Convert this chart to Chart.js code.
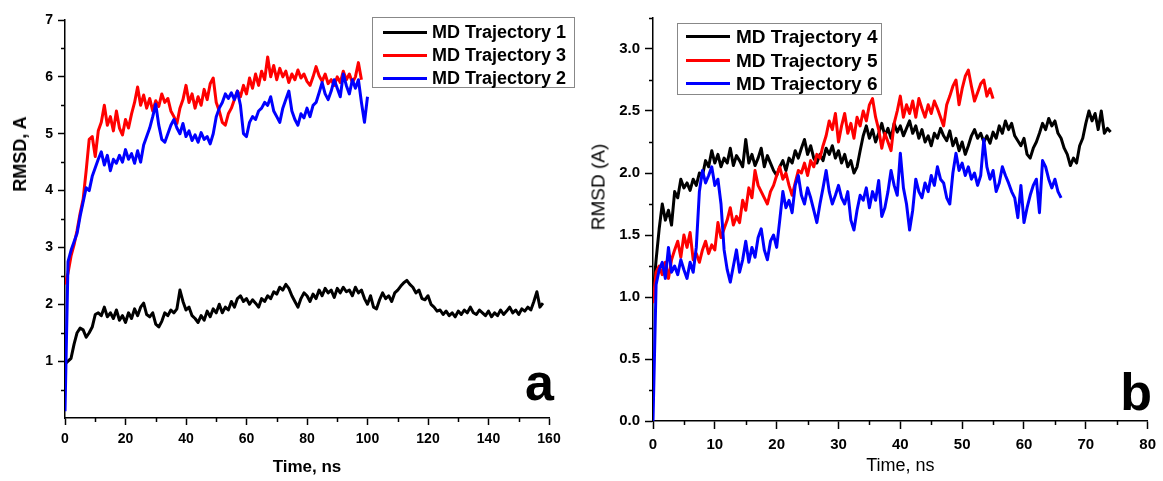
<!DOCTYPE html>
<html>
<head>
<meta charset="utf-8">
<script src="https://cdn.jsdelivr.net/npm/chart.js@4/dist/chart.umd.min.js"></script>
<style>
  body { margin: 0; width: 1163px; height: 481px; background: #fff; position: relative; overflow: hidden;
    font-family: "Liberation Sans", Arial, sans-serif; color: #000; }
  .panel { position: absolute; top: 0; }
  .legend { position: absolute; box-sizing: border-box; border: 1px solid #888; background: #fff; font-weight: bold; }
  .legend .row { position: relative; white-space: nowrap; }
  .legend .swatch { position: absolute; height: 3px; width: 44px; }
  .ytitle { position: absolute; white-space: nowrap; transform: translate(-50%, -50%) rotate(-90deg); line-height: 1; }
  .letter { position: absolute; font-weight: bold; font-size: 52px; line-height: 52px; }
</style>
</head>
<body>
<div class="panel" style="left:0"><canvas id="chartA" width="580" height="481"></canvas></div>
<div class="panel" style="left:580px"><canvas id="chartB" width="583" height="481"></canvas></div>

<div class="ytitle" style="left:20px; top:154px; font-size:18px; font-weight:bold">RMSD, A</div>
<div class="ytitle" style="left:598px; top:187px; font-size:19px">RMSD (A)</div>

<div id="legendA" class="legend" style="left:372px; top:17px; width:203px; height:71px; padding-top:3px; font-size:18px"></div>
<div id="legendB" class="legend" style="left:677px; top:23px; width:205px; height:72px; padding-top:1px; font-size:19px"></div>

<div class="letter" style="right:609px; top:356px">a</div>
<div class="letter" style="right:11px; top:366px">b</div>

<script>
// panel a: ticks
const aXTicks = [0, 20, 40, 60, 80, 100, 120, 140, 160];
const aXMinor = [10, 30, 50, 70, 90, 110, 130, 150];
const aYTicks = [1, 2, 3, 4, 5, 6, 7];
const aYMinor = [0.5, 1.5, 2.5, 3.5, 4.5, 5.5, 6.5];

// panel b: ticks
const bXTicks = [0, 10, 20, 30, 40, 50, 60, 70, 80];
const bXMinor = [5, 15, 25, 35, 45, 55, 65, 75];
const bYTicks = [0, 0.5, 1.0, 1.5, 2.0, 2.5, 3.0];
const bYMinor = [0.25, 0.75, 1.25, 1.75, 2.25, 2.75, 3.25];

const traj1 = [0.95, 1.00, 1.05, 1.30, 1.50, 1.58, 1.55, 1.42, 1.50, 1.60,
  1.82, 1.85, 1.80, 1.95, 1.78, 1.85, 1.75, 1.90, 1.72, 1.80,
  1.68, 1.85, 1.75, 1.92, 1.80, 1.95, 2.02, 1.82, 1.78, 1.85,
  1.65, 1.60, 1.70, 1.85, 1.80, 1.90, 1.85, 1.92, 2.25, 2.05,
  1.90, 1.95, 1.80, 1.75, 1.68, 1.80, 1.72, 1.88, 1.78, 1.92,
  1.85, 2.00, 1.85, 1.95, 1.90, 2.05, 1.95, 2.10, 2.15, 2.05,
  2.10, 2.00, 2.08, 2.02, 1.95, 2.10, 2.05, 2.15, 2.10, 2.22,
  2.18, 2.30, 2.25, 2.35, 2.28, 2.15, 2.05, 1.95, 2.10, 2.20,
  2.15, 2.05, 2.18, 2.10, 2.25, 2.15, 2.28, 2.20, 2.25, 2.12,
  2.28, 2.20, 2.30, 2.22, 2.25, 2.15, 2.30, 2.20, 2.25, 2.10,
  2.00, 2.15, 1.95, 1.92, 2.08, 2.20, 2.10, 2.15, 2.05, 2.20,
  2.25, 2.32, 2.38, 2.42, 2.35, 2.30, 2.20, 2.25, 2.10, 2.08,
  2.15, 2.00, 1.95, 1.88, 1.90, 1.82, 1.88, 1.80, 1.85, 1.78,
  1.88, 1.82, 1.90, 1.85, 1.95, 1.85, 1.82, 1.90, 1.85, 1.80,
  1.88, 1.78, 1.85, 1.80, 1.90, 1.82, 1.88, 1.95, 1.85, 1.90,
  1.82, 1.92, 1.88, 1.95, 1.90, 2.05, 2.22, 1.95, 2.02];

const traj3 = [2.35, 2.55, 2.85, 3.05, 3.30, 3.60, 3.85, 4.35, 4.90, 4.95,
  4.60, 5.05, 5.20, 5.50, 5.15, 5.30, 5.05, 5.40, 5.10, 4.98,
  5.25, 5.10, 5.35, 5.55, 5.82, 5.50, 5.68, 5.45, 5.62, 5.40,
  5.58, 5.48, 5.70, 5.55, 5.62, 5.40, 5.30, 5.18, 5.45, 5.60,
  5.85, 5.55, 5.70, 5.45, 5.65, 5.50, 5.78, 5.60, 5.88, 5.98,
  5.55, 5.40, 5.20, 5.15, 5.35, 5.45, 5.60, 5.75, 5.65, 5.85,
  5.70, 5.98, 5.80, 6.05, 5.85, 6.10, 5.95, 6.35, 6.00, 6.20,
  5.95, 6.15, 6.00, 6.10, 5.90, 6.05, 5.95, 6.12, 5.98, 6.05,
  5.92, 5.85, 6.00, 6.18, 6.02, 5.92, 6.05, 5.88, 5.95, 5.85,
  6.00, 5.90, 6.10, 5.95, 6.05, 5.90, 6.00, 6.25, 5.95];

const traj2 = [0.12, 2.75, 2.95, 3.10, 3.25, 3.55, 3.80, 4.05, 4.00, 4.25,
  4.40, 4.55, 4.68, 4.45, 4.62, 4.35, 4.55, 4.48, 4.62, 4.50,
  4.72, 4.55, 4.65, 4.48, 4.70, 4.50, 4.80, 4.95, 5.10, 5.30,
  5.52, 5.15, 4.90, 4.85, 5.00, 5.15, 5.25, 5.10, 5.00, 5.18,
  4.95, 5.05, 4.88, 4.98, 4.85, 5.02, 4.90, 4.95, 4.82, 5.00,
  5.30, 5.45, 5.55, 5.70, 5.62, 5.72, 5.60, 5.75, 5.50, 5.00,
  4.95, 5.20, 5.30, 5.25, 5.40, 5.45, 5.55, 5.50, 5.65, 5.40,
  5.30, 5.20, 5.45, 5.60, 5.75, 5.40, 5.25, 5.15, 5.35, 5.28,
  5.45, 5.30, 5.50, 5.55, 5.72, 5.90, 5.70, 5.60, 5.75, 5.95,
  5.80, 5.65, 6.05, 5.85, 5.70, 5.95, 5.80, 5.95, 5.55, 5.20,
  5.65];

const traj4 = [1.00, 1.30, 1.55, 1.75, 1.62, 1.70, 1.58, 1.85, 1.80, 1.95,
  1.88, 1.92, 1.86, 1.95, 1.90, 2.00, 1.98, 2.10, 2.05, 2.18,
  2.08, 2.15, 2.05, 2.12, 2.08, 2.20, 2.06, 2.14, 2.10, 2.05,
  2.27, 2.08, 2.15, 2.06, 2.12, 2.20, 2.05, 2.14, 2.08, 2.02,
  1.98, 2.05, 2.10, 2.02, 2.12, 2.08, 2.18, 2.12, 2.20, 2.27,
  2.15, 2.22, 2.12, 2.08, 2.15, 2.10, 2.20, 2.15, 2.22, 2.12,
  2.18, 2.08, 2.15, 2.05, 2.10, 2.00, 2.05, 2.18, 2.30, 2.38,
  2.28, 2.35, 2.25, 2.32, 2.40, 2.30, 2.36, 2.28, 2.40, 2.33,
  2.38, 2.30, 2.36, 2.42, 2.32, 2.38, 2.28, 2.35, 2.25, 2.30,
  2.22, 2.32, 2.28, 2.36, 2.30, 2.26, 2.34, 2.22, 2.28, 2.18,
  2.25, 2.15, 2.22, 2.30, 2.35, 2.28, 2.32, 2.25, 2.30, 2.24,
  2.33, 2.28, 2.38, 2.32, 2.42, 2.35, 2.40, 2.30, 2.26, 2.22,
  2.28, 2.15, 2.12, 2.20, 2.25, 2.32, 2.40, 2.35, 2.44, 2.38,
  2.42, 2.32, 2.28, 2.20, 2.15, 2.06, 2.12, 2.08, 2.22, 2.28,
  2.40, 2.50, 2.42, 2.48, 2.35, 2.50, 2.32, 2.36, 2.33];

const traj5 = [0.95, 1.20, 1.25, 1.18, 1.28, 1.15, 1.30, 1.38, 1.45, 1.32,
  1.50, 1.40, 1.52, 1.30, 1.35, 1.28, 1.38, 1.45, 1.35, 1.42,
  1.38, 1.60, 1.48, 1.55, 1.62, 1.72, 1.58, 1.65, 1.60, 1.78,
  1.70, 1.88, 1.80, 2.02, 1.90, 1.85, 1.80, 1.75, 1.85, 1.90,
  1.98, 2.05, 1.95, 2.00, 1.90, 1.82, 1.92, 2.02, 2.00, 2.08,
  1.98, 2.10, 2.05, 2.15, 2.12, 2.22, 2.30, 2.42, 2.35, 2.48,
  2.25, 2.38, 2.48, 2.32, 2.40, 2.28, 2.45, 2.38, 2.50, 2.42,
  2.55, 2.60, 2.45, 2.35, 2.20, 2.32, 2.25, 2.18, 2.40, 2.50,
  2.62, 2.45, 2.55, 2.48, 2.58, 2.45, 2.60, 2.52, 2.45, 2.55,
  2.48, 2.58, 2.52, 2.45, 2.38, 2.55, 2.62, 2.70, 2.75, 2.55,
  2.68, 2.78, 2.83, 2.70, 2.58, 2.65, 2.72, 2.75, 2.62, 2.68,
  2.60];

const traj6 = [0.00, 1.10, 1.22, 1.28, 1.15, 1.40, 1.20, 1.25, 1.18, 1.30,
  1.22, 1.15, 1.28, 1.20, 1.40, 1.85, 2.02, 1.92, 1.98, 2.05,
  1.90, 1.95, 1.75, 1.38, 1.22, 1.12, 1.25, 1.38, 1.20, 1.30,
  1.45, 1.28, 1.40, 1.32, 1.48, 1.55, 1.38, 1.30, 1.45, 1.50,
  1.40, 1.62, 1.85, 1.72, 1.78, 1.68, 1.90, 1.98, 1.82, 1.75,
  1.88, 1.80, 1.70, 1.60, 1.75, 1.88, 2.02, 1.85, 1.75, 1.82,
  1.90, 1.80, 1.75, 1.85, 1.62, 1.54, 1.70, 1.82, 1.78, 1.88,
  1.72, 1.85, 1.78, 1.94, 1.65, 1.72, 1.85, 2.02, 1.90, 1.82,
  2.16, 1.88, 1.75, 1.54, 1.70, 1.95, 1.85, 1.80, 1.92, 1.85,
  1.98, 1.90, 2.05, 1.95, 1.92, 1.80, 1.75, 2.00, 2.16, 2.02,
  2.08, 1.98, 2.05, 1.95, 2.00, 1.90, 1.98, 2.27, 2.05, 1.95,
  2.02, 1.85, 1.92, 2.05, 1.98, 1.92, 1.85, 1.80, 1.64, 1.90,
  1.60, 1.72, 1.82, 1.90, 1.95, 1.68, 2.10, 2.05, 1.95, 1.88,
  1.95, 1.85, 1.80];

const FONT = "'Liberation Sans', Arial, sans-serif";
Chart.defaults.font.family = FONT;
Chart.defaults.color = "#000";

function toPoints(values, step) { return values.map((v, i) => ({ x: i * step, y: v })); }

// short minor tick marks between the labelled ones
const minorTicks = {
  id: "minorTicks",
  afterDraw(chart, args, opts) {
    const { ctx, chartArea, scales } = chart;
    ctx.save();
    ctx.strokeStyle = "#000";
    ctx.lineWidth = 1.5;
    ctx.beginPath();
    opts.x.forEach((v) => {
      const px = Math.round(scales.x.getPixelForValue(v)) + 0.5;
      ctx.moveTo(px, chartArea.bottom); ctx.lineTo(px, chartArea.bottom + opts.length);
    });
    opts.y.forEach((v) => {
      const py = Math.round(scales.y.getPixelForValue(v)) + 0.5;
      ctx.moveTo(chartArea.left, py); ctx.lineTo(chartArea.left - opts.length, py);
    });
    ctx.stroke();
    ctx.restore();
  }
};

function axis(cfg) {
  return {
    type: "linear", min: cfg.min, max: cfg.max,
    afterBuildTicks: (scale) => { scale.ticks = cfg.ticks.map((v) => ({ value: v })); },
    afterFit: (scale) => { if (cfg.width) scale.width = cfg.width; if (cfg.height) scale.height = cfg.height; },
    ticks: { color: "#000", padding: cfg.padding, font: { size: cfg.fontSize, weight: "bold" },
      callback: cfg.format || ((v) => v) },
    grid: { drawOnChartArea: false, drawTicks: true, tickLength: cfg.tickLength, tickColor: "#000", tickWidth: 1.5 },
    border: { display: true, color: "#000", width: 1.5 },
    title: cfg.title ? { display: true, text: cfg.title, color: "#000", font: cfg.titleFont, padding: { top: 0, bottom: cfg.titlePad } }
      : { display: false }
  };
}

function makeChart(id, series, opts) {
  const datasets = series.map((s, i) => ({
    label: s.label, data: toPoints(s.values, s.step), borderColor: s.color, backgroundColor: s.color,
    borderWidth: 3, pointRadius: 0, tension: 0, fill: false, borderJoinStyle: "round", order: series.length - i
  }));
  return new Chart(document.getElementById(id), {
    type: "line",
    data: { datasets },
    options: {
      responsive: false, animation: false, events: [],
      layout: { padding: opts.padding },
      plugins: { legend: { display: false }, tooltip: { enabled: false }, minorTicks: opts.minor },
      scales: { x: opts.x, y: opts.y }
    },
    plugins: [minorTicks]
  });
}

function buildLegend(id, series, swatchLeft, textLeft, rowHeight) {
  document.getElementById(id).innerHTML = series.map((s) =>
    `<div class="row" style="height:${rowHeight}px; line-height:${rowHeight}px; padding-left:${textLeft}px">` +
    `<span class="swatch" style="left:${swatchLeft}px; top:${rowHeight / 2 - 1.5}px; background:${s.color}"></span>${s.label}</div>`).join("");
}

const seriesA = [
  { label: "MD Trajectory 1", values: traj1, step: 1, color: "#000000" },
  { label: "MD Trajectory 3", values: traj3, step: 1, color: "#ff0000" },
  { label: "MD Trajectory 2", values: traj2, step: 1, color: "#0000ff" }
];
const seriesB = [
  { label: "MD Trajectory 4", values: traj4, step: 0.5, color: "#000000" },
  { label: "MD Trajectory 5", values: traj5, step: 0.5, color: "#ff0000" },
  { label: "MD Trajectory 6", values: traj6, step: 0.5, color: "#0000ff" }
];

makeChart("chartA", seriesA, {
  padding: { left: 0, right: 31, top: 20, bottom: 0 },
  minor: { x: aXMinor, y: aYMinor, length: 4 },
  x: axis({ min: 0, max: 160, ticks: aXTicks, height: 63, padding: 6, tickLength: 7, fontSize: 14,
    title: "Time, ns", titleFont: { size: 17, weight: "bold" }, titlePad: 3 }),
  y: axis({ min: 0, max: 7, ticks: aYTicks, width: 65, padding: 5, tickLength: 7, fontSize: 14 })
});

makeChart("chartB", seriesB, {
  padding: { left: 0, right: 11, top: 18, bottom: 0 },
  minor: { x: bXMinor, y: bYMinor, length: 4 },
  x: axis({ min: 0, max: 80, ticks: bXTicks, height: 60, padding: 7, tickLength: 8, fontSize: 15,
    title: "Time, ns", titleFont: { size: 18, weight: "normal" }, titlePad: 4 }),
  y: axis({ min: 0, max: 3.25, ticks: bYTicks, width: 73, padding: 5, tickLength: 8, fontSize: 15,
    format: (v) => v.toFixed(1) })
});

buildLegend("legendA", seriesA, 10, 59, 23);
buildLegend("legendB", seriesB, 8, 58, 23.5);
</script>
</body>
</html>
